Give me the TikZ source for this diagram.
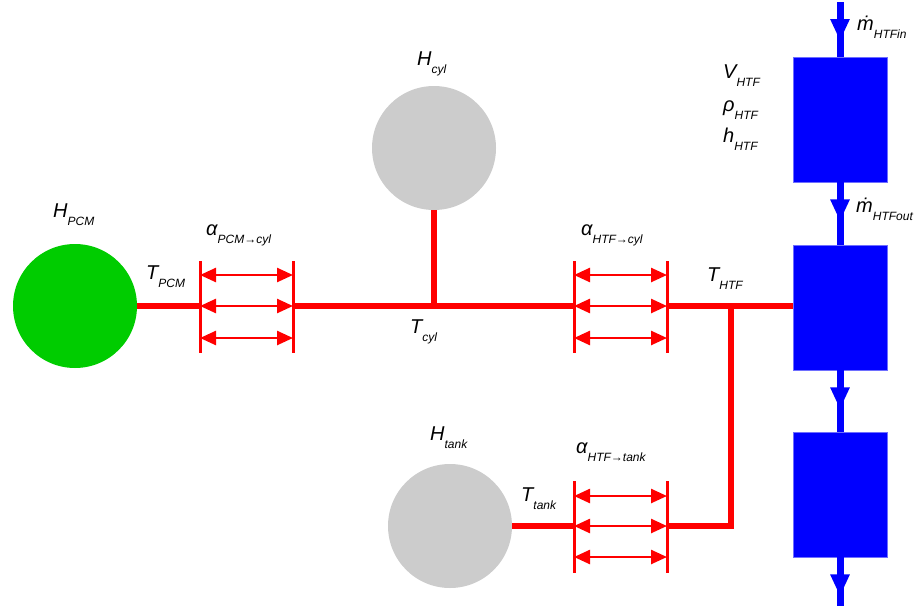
\documentclass[tikz,border=0pt]{standalone}
\usepackage{fontspec}
\setmainfont{Liberation Sans}
\usetikzlibrary{arrows.meta,decorations.markings}
\definecolor{pcmgreen}{RGB}{0,204,0}
\definecolor{ballgray}{RGB}{204,204,204}
\definecolor{boxedge}{RGB}{110,110,255}
\newcommand{\lbl}[2]{{\fontsize{20pt}{20pt}\selectfont\itshape #1}\raisebox{-8.5pt}{\fontsize{12pt}{12pt}\selectfont\itshape #2}}
\begin{document}
\begin{tikzpicture}[x=1pt,y=-1pt,
  pipe/.style={draw=red,line width=6pt},
  barline/.style={draw=red,line width=3pt},
  couple/.style={draw=red,line width=2.5pt,{Triangle[width=14pt,length=16pt]}-{Triangle[width=14pt,length=16pt]}},
  ball/.style={circle,minimum size=124pt,inner sep=0pt},
  tankbox/.style={rectangle,fill=blue,draw=boxedge,line width=0.8pt,minimum width=94pt,minimum height=125pt,inner sep=0pt},
  flowline/.style={draw=blue,line width=7pt,postaction={decorate},decoration={markings,mark=at position 39pt with {\arrow[blue]{Triangle[width=18pt,length=22pt]}}}},
  lab/.style={anchor=base west,inner sep=0pt}]
\useasboundingbox (0,0) rectangle (918,608);

% circles
\node[ball,fill=pcmgreen] (pcm) at (75,306) {};
\node[ball,fill=ballgray] (cyl) at (434,148) {};
\node[ball,fill=ballgray] (tank) at (450,526) {};

% blue boxes
\node[tankbox] (b1) at (840,119.5) {};
\node[tankbox] (b2) at (840,307.5) {};
\node[tankbox] (b3) at (840,494.5) {};
\coordinate (fin) at (840,2);
\coordinate (fout) at (840,606);
\draw[flowline] (fin) -- (b1.north);
\draw[flowline] (b1.south) -- (b2.north);
\draw[flowline] (b2.south) -- (b3.north);
\draw[flowline] (b3.south) -- (fout);

% coupling points
\coordinate (c1a) at (200,306);
\coordinate (c1b) at (293,306);
\coordinate (c2a) at (574,306);
\coordinate (c2b) at (667,306);
\coordinate (j) at (731,306);
\coordinate (k) at (731,526);
\coordinate (c3a) at (574,526);
\coordinate (c3b) at (667,526);

% red pipes
\draw[pipe] (pcm.east) -- (c1a);
\draw[pipe] (c1b) -- (c2a);
\draw[pipe] (c2b) -- (pcm.east -| b2.west);
\draw[pipe] (cyl.south) -- (cyl.south |- c1a);
\draw[pipe] (j) -- (k) -- (c3b);
\draw[pipe] (tank.east) -- (c3a);

% bars
\foreach \c in {c1a,c1b,c2a,c2b,c3a,c3b}{
  \draw[barline] ([yshift=45pt]\c) -- ([yshift=-47pt]\c);
}
% double arrows
\draw[couple] ([yshift=31pt]c1a) -- ([yshift=31pt]c1b);
\draw[couple] (c1a) -- (c1b);
\draw[couple] ([yshift=-32pt]c1a) -- ([yshift=-32pt]c1b);
\draw[couple] ([yshift=31pt]c2a) -- ([yshift=31pt]c2b);
\draw[couple] (c2a) -- (c2b);
\draw[couple] ([yshift=-32pt]c2a) -- ([yshift=-32pt]c2b);
\draw[couple] ([yshift=30pt]c3a) -- ([yshift=30pt]c3b);
\draw[couple] (c3a) -- (c3b);
\draw[couple] ([yshift=-31pt]c3a) -- ([yshift=-31pt]c3b);

% labels
\node[lab] (lhpcm) at (53,217) {\lbl{H}{PCM}};
\node[lab] (ltpcm) at (146,279) {\lbl{T}{PCM}};
\node[lab] (la1) at (206,235) {\lbl{α}{PCM→cyl}};
\node[lab] (lhcyl) at (417,65) {\lbl{H}{cyl}};
\node[lab] (ltcyl) at (410,333) {\lbl{T}{cyl}};
\node[lab] (la2) at (581,235) {\lbl{α}{HTF→cyl}};
\node[lab] (lthtf) at (707,281) {\lbl{T}{HTF}};
\node[lab] (lhtank) at (430,440) {\lbl{H}{tank}};
\node[lab] (lttank) at (521,501) {\lbl{T}{tank}};
\node[lab] (la3) at (576,453) {\lbl{α}{HTF→tank}};
\node[lab] (lmin) at (857,30) {\lbl{\.{m}}{HTFin}};
\node[lab] (lmout) at (856,212) {\lbl{\.{m}}{HTFout}};
\node[lab] (lv) at (723,78) {\lbl{V}{HTF}};
\node[lab] (lrho) at (723,111) {\lbl{ρ}{HTF}};
\node[lab] (lh) at (723,142) {\lbl{h}{HTF}};
\end{tikzpicture}
\end{document}
